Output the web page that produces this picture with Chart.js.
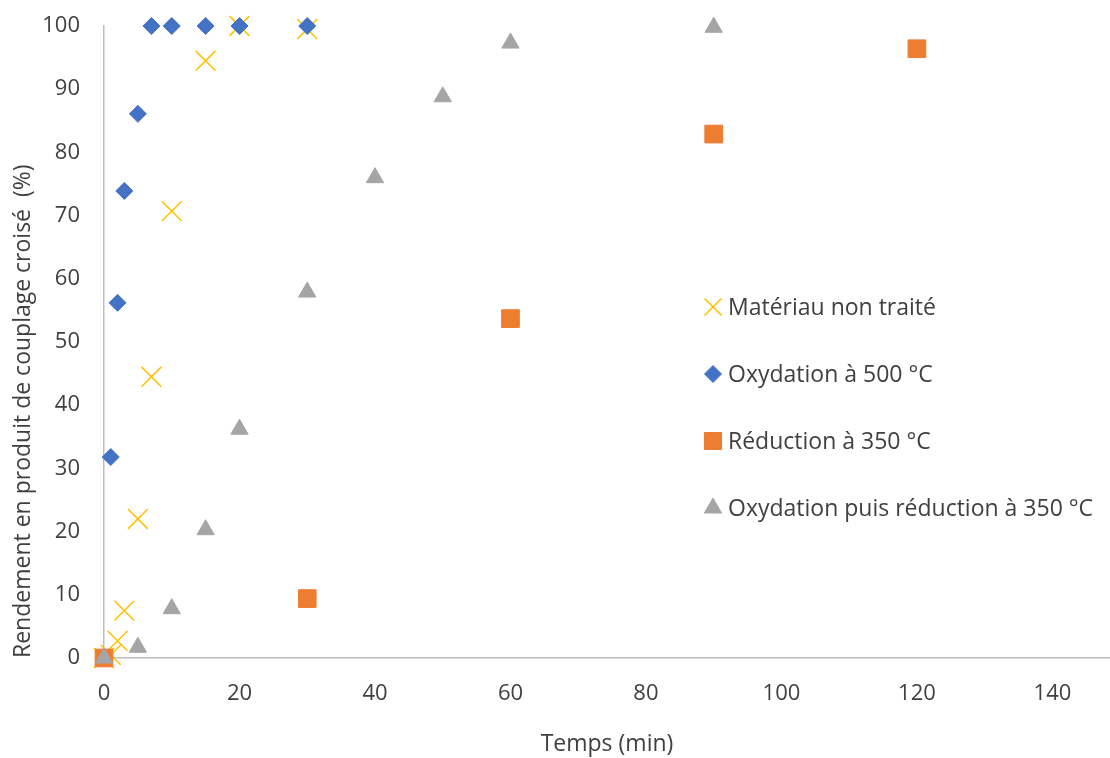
<!DOCTYPE html>
<html>
<head>
    <title>Rendement en produit de couplage croisé</title>
    <meta charset="UTF-8">
    <script src="https://cdn.jsdelivr.net/npm/chart.js@4/dist/chart.umd.min.js"></script>
    <style>
        html, body { margin: 0; padding: 0; background: #fff; overflow: hidden; }
        #wrap { width: 1110px; height: 758px; }
        canvas { display: block; }
    </style>
</head>
<body>
<div id="wrap"><canvas id="myChart" width="1110" height="758"></canvas></div>
<script>
    // séries (x = temps en min, y = rendement en %)
    const seriesNames = ['Matériau non traité', 'Oxydation à 500 °C', 'Réduction à 350 °C', 'Oxydation puis réduction à 350 °C'];

    const untreatedTime = [0, 1, 2, 3, 5, 7, 10, 15, 20, 30];
    const untreatedYield = [0, 0.5, 2.7, 7.5, 22, 44.5, 70.7, 94.5, 100, 99.5];

    const oxidTime = [0, 1, 2, 3, 5, 7, 10, 15, 20, 30];
    const oxidYield = [0, 31.8, 56.2, 73.9, 86.1, 100, 100, 100, 100, 100];

    const reducTime = [0, 30, 60, 90, 120];
    const reducYield = [0, 9.4, 53.7, 82.9, 96.4];

    const oxReTime = [0, 5, 10, 15, 20, 30, 40, 50, 60, 90];
    const oxReYield = [0, 1.7, 7.8, 20.3, 36.2, 57.9, 76, 88.8, 97.3, 99.8];

    const xTicks = [0, 20, 40, 60, 80, 100, 120, 140];

    function pts(xs, ys) {
        return xs.map((x, i) => ({x: x, y: ys[i]}));
    }

    const styles = [
        {color: '#FFC000', style: 'crossRot', radius: 14, legendRadius: 12, bw: 1.5},
        {color: '#4472C4', style: 'rectRot', radius: 8.5, legendRadius: 8.5, bw: 1},
        {color: '#ED7D31', style: 'rect', radius: 12.5, legendRadius: 12, bw: 1},
        {color: '#A5A5A5', style: 'triangle', radius: 10, legendRadius: 10, bw: 1}
    ];
    const allData = [
        pts(untreatedTime, untreatedYield),
        pts(oxidTime, oxidYield),
        pts(reducTime, reducYield),
        pts(oxReTime, oxReYield)
    ];

    const datasets = seriesNames.map((name, i) => ({
        label: name,
        data: allData[i],
        showLine: false,
        pointStyle: styles[i].style,
        pointRadius: styles[i].radius,
        pointHoverRadius: styles[i].radius,
        pointBackgroundColor: styles[i].color,
        pointBorderColor: styles[i].color,
        pointBorderWidth: styles[i].bw,
        backgroundColor: styles[i].color,
        borderColor: styles[i].color,
        order: 4 - i,
        clip: false
    }));

    const textColor = '#404040';
    const fontFamily = '"Open Sans", sans-serif';

    // légende dessinée dans la zone de tracé
    const insideLegend = {
        id: 'insideLegend',
        afterDraw(chart) {
            const ctx = chart.ctx;
            const area = chart.chartArea;
            const x0 = area.left + 609;
            const y0 = area.top + 281;
            const gap = 67;
            ctx.save();
            ctx.font = '23px ' + fontFamily;
            ctx.textBaseline = 'middle';
            chart.data.datasets.forEach((ds, i) => {
                const y = y0 + i * gap;
                ctx.fillStyle = styles[i].color;
                ctx.strokeStyle = styles[i].color;
                ctx.lineWidth = styles[i].bw;
                Chart.helpers.drawPoint(ctx, {pointStyle: styles[i].style, radius: styles[i].legendRadius, rotation: 0, borderWidth: styles[i].bw}, x0, y);
                ctx.fillStyle = textColor;
                ctx.fillText(ds.label, x0 + 15, y + 1);
            });
            ctx.restore();
        }
    };

    const tickFont = {family: fontFamily, size: 22};
    const titleFont = {family: fontFamily, size: 23};

    function noPad(scale) {
        scale.paddingTop = 0;
        scale.paddingBottom = 0;
        scale.paddingLeft = 0;
        scale.paddingRight = 0;
    }

    new Chart(document.getElementById('myChart'), {
        type: 'scatter',
        data: {datasets: datasets},
        options: {
            responsive: false,
            animation: false,
            layout: {autoPadding: false, padding: {top: 26, right: 0, left: 0, bottom: 0}},
            plugins: {legend: {display: false}, tooltip: {enabled: false}},
            scales: {
                x: {
                    type: 'linear',
                    min: 0,
                    max: 148.5,
                    afterBuildTicks: (scale) => { scale.ticks = xTicks.map(v => ({value: v})); },
                    afterFit: (scale) => { scale.height = 100; noPad(scale); },
                    grid: {display: false, drawTicks: false},
                    border: {color: '#BDBDBD', width: 1.5},
                    ticks: {font: tickFont, color: textColor, padding: 23, maxRotation: 0},
                    title: {display: true, text: 'Temps (min)', font: titleFont, color: textColor, padding: {top: 0, bottom: 0}}
                },
                y: {
                    min: 0,
                    max: 100,
                    afterFit: (scale) => { scale.width = 104; noPad(scale); },
                    grid: {display: false, drawTicks: false},
                    border: {color: '#BDBDBD', width: 1.5},
                    ticks: {font: tickFont, color: textColor, padding: 24, stepSize: 10},
                    title: {display: true, text: 'Rendement en produit de couplage croisé  (%)', align: 'start', font: titleFont, color: textColor, padding: {top: 10, bottom: 0}}
                }
            }
        },
        plugins: [insideLegend]
    });
</script>
</body>
</html>
